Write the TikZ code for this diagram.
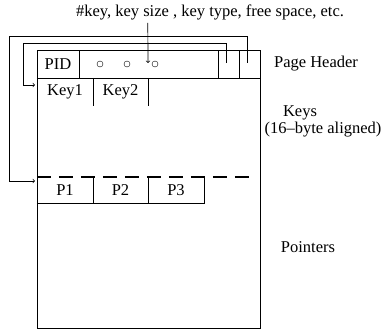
\documentclass[tikz,border=0pt]{standalone}
\usepackage{fontspec}
\setmainfont{Liberation Serif}
\usetikzlibrary{positioning}
\begin{document}
\begin{tikzpicture}[x=1pt,y=-1pt,
	every node/.style={font=\fontsize{16.5}{18}\selectfont},
	cell/.style={draw, minimum height=28pt, inner sep=0pt},
	slot/.style={minimum height=28pt, inner sep=0pt},
	hole/.style={circle, draw, minimum size=6pt, inner sep=0pt},
	ptr/.style={->, line width=0.7pt},
	note/.style={align=center, inner sep=0pt}]
	
	\useasboundingbox (0,0) rectangle (386,331);
	\node[draw, minimum width=223pt, minimum height=278pt, inner sep=0pt] (page) at (148.5,189) {};
	
	% header
	\node[cell, minimum width=42pt] (pid) at (58,64) {PID};
	\node[cell, minimum width=21pt] (hdrA) at (228.5,64) {};
	\node[cell, minimum width=21pt] (hdrB) at (249.5,64) {};
	\draw (page.west |- pid.south) -- (page.east |- pid.south);
	\node[hole] (o1) at (100,64) {};
	\node[hole] (o2) at (127,64) {};
	\node[hole] (o3) at (155,64) {};
	
	% keys
	\node[slot, minimum width=56pt] (key1) at (65,92) {Key1};
	\node[slot, minimum width=55pt] (key2) at (120.5,92) {Key2};
	\draw (key1.north east) -- (key1.south east);
	\draw (key2.north east) -- (key2.south east);
	
	% pointers
	\draw[line width=2.6pt, dash pattern=on 14pt off 8pt] (page.west |- 0,177) coordinate (cut) -- (250,177) coordinate (cutend);
	\node[slot, minimum width=56pt, minimum height=26pt] (p1) at (65,190) {P1};
	\node[slot, minimum width=55pt, minimum height=26pt] (p2) at (120.5,190) {P2};
	\node[slot, minimum width=56pt, minimum height=26pt] (p3) at (176,190) {P3};
	\draw (p1.south west) -- (p3.south east) -- (p3.north east);
	\draw (p1.north east) -- (p1.south east);
	\draw (p2.north east) -- (p2.south east);
	
	% links
	\coordinate (startA) at (226,63);
	\coordinate (startB) at (247,63);
	\coordinate (endA) at (35,85);
	\coordinate (endB) at (35,181);
	\draw[ptr] (startA) |- (23,43) |- (endA);
	\draw[ptr] (startB) |- (9,36) |- (endB);
	
	% labels
	\node[note] (info) at (210,12) {\#key, key size , key type, free space, etc.};
	\draw[ptr] (info.south -| o3.west) ++(-4,3) coordinate (infoend) -- (148,63);
	\node[note] (hdrlbl) at (316,64) {Page Header};
	\node[note] (keylbl) at (300,113) {Keys};
	\node[note] (alignlbl) at (323,129.5) {(16--byte aligned)};
	\node[note] (ptrlbl) at (308,247) {Pointers};
\end{tikzpicture}
\end{document}
